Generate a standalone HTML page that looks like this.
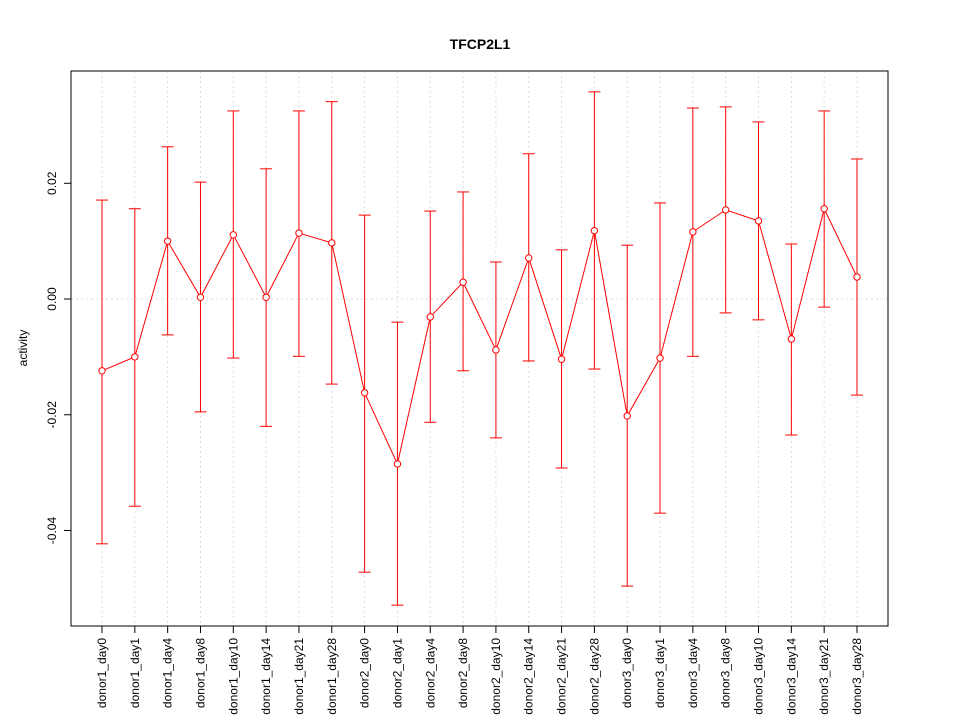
<!DOCTYPE html>
<html><head><meta charset="utf-8"><style>
body{margin:0;background:#fff}
text{font-family:"Liberation Sans",sans-serif}
</style></head><body>
<svg id="chart" width="960" height="720" xmlns="http://www.w3.org/2000/svg"></svg>
<script>
const categories=["donor1_day0","donor1_day1","donor1_day4","donor1_day8","donor1_day10","donor1_day14","donor1_day21","donor1_day28","donor2_day0","donor2_day1","donor2_day4","donor2_day8","donor2_day10","donor2_day14","donor2_day21","donor2_day28","donor3_day0","donor3_day1","donor3_day4","donor3_day8","donor3_day10","donor3_day14","donor3_day21","donor3_day28"];
const activity=[-0.0124,-0.0100,0.0100,0.0003,0.0111,0.0003,0.0114,0.0097,-0.0162,-0.0285,-0.0031,0.0029,-0.0088,0.0071,-0.0104,0.0118,-0.0202,-0.0102,0.0116,0.0154,0.0135,-0.0069,0.0156,0.0038];
const upper=[0.0171,0.0156,0.0263,0.0202,0.0325,0.0225,0.0325,0.0341,0.0145,-0.0040,0.0152,0.0185,0.0064,0.0251,0.0085,0.0358,0.0093,0.0166,0.0330,0.0332,0.0306,0.0095,0.0325,0.0242];
const lower=[-0.0423,-0.0358,-0.0062,-0.0195,-0.0102,-0.0220,-0.0099,-0.0147,-0.0472,-0.0529,-0.0213,-0.0124,-0.0240,-0.0107,-0.0292,-0.0121,-0.0496,-0.0370,-0.0099,-0.0024,-0.0036,-0.0235,-0.0014,-0.0166];
const yTicks=[0.02,0.00,-0.02,-0.04];
const yTickLabels=["0.02","0.00","-0.02","-0.04"];
const svg=document.getElementById('chart');
const NS="http://www.w3.org/2000/svg";
const L=71,R=888,T=71,B=626;
const yMax=0.0394,yMin=-0.0565;
function y(v){return T+(yMax-v)/(yMax-yMin)*(B-T);}
function x(i){return 102+i*(857-102)/(categories.length-1);}
function el(tag,attrs,parent){const e=document.createElementNS(NS,tag);for(const k in attrs)e.setAttribute(k,attrs[k]);(parent||svg).appendChild(e);return e;}
const grid=el('g',{});


categories.forEach((c,i)=>{el('line',{x1:x(i),x2:x(i),y1:T,y2:B,stroke:'#dcdcdc','stroke-dasharray':'2,3'},grid);});
el('line',{x1:L,x2:R,y1:y(0),y2:y(0),stroke:'#dcdcdc','stroke-dasharray':'2,3'},grid);
const frame=el('rect',{x:L,y:T,width:R-L,height:B-T,fill:'none',stroke:'#000'});


const ya=el('g',{});


yTicks.forEach((v,i)=>{el('line',{x1:L-7,x2:L,y1:y(v),y2:y(v),stroke:'#000'},ya);
const t=el('text',{x:L-15,y:y(v),'font-size':12,'text-anchor':'middle',transform:`rotate(-90 ${L-15} ${y(v)})`},ya);t.textContent=yTickLabels[i];});
const xa=el('g',{});


categories.forEach((c,i)=>{el('line',{x1:x(i),x2:x(i),y1:B,y2:B+7,stroke:'#000'},xa);
const t=el('text',{x:x(i)+4,y:B+12,'font-size':12,'text-anchor':'end',transform:`rotate(-90 ${x(i)+4} ${B+12})`},xa);t.textContent=c;});
const ser=el('g',{});


categories.forEach((c,i)=>{
el('line',{x1:x(i),x2:x(i),y1:y(upper[i]),y2:y(lower[i]),stroke:'#ff0000'},ser);
el('line',{x1:x(i)-6,x2:x(i)+6,y1:y(upper[i]),y2:y(upper[i]),stroke:'#ff0000'},ser);
el('line',{x1:x(i)-6,x2:x(i)+6,y1:y(lower[i]),y2:y(lower[i]),stroke:'#ff0000'},ser);
});
el('polyline',{points:activity.map((v,i)=>x(i)+','+y(v)).join(' '),fill:'none',stroke:'#ff0000'},ser);
activity.forEach((v,i)=>{const p=el('circle',{cx:x(i),cy:y(v),r:3.2,fill:'#fff',stroke:'#ff0000'},ser);

});
const title=el('text',{x:480,y:49,'font-size':14,'font-weight':'bold','text-anchor':'middle'});title.textContent='TFCP2L1';


const yl=el('text',{x:27,y:348,'font-size':12,'text-anchor':'middle',transform:'rotate(-90 27 348)'});yl.textContent='activity';


</script>
</body></html>
